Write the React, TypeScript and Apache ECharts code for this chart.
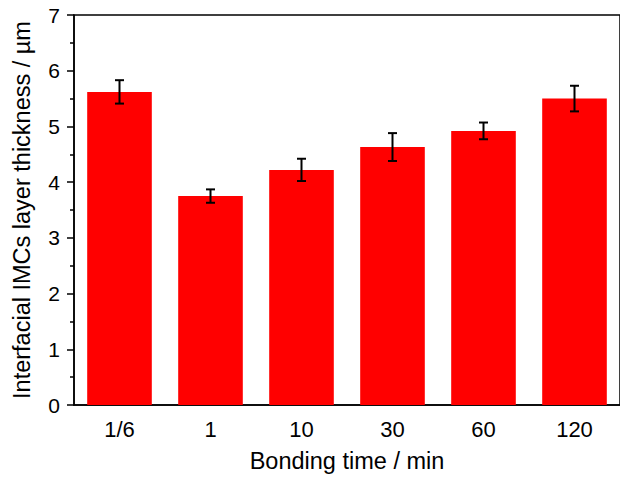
import React, { useEffect, useRef } from "react";
import * as echarts from "echarts";

const categories = ["1/6", "1", "10", "30", "60", "120"];
const thickness = [5.62, 3.75, 4.22, 4.63, 4.92, 5.5];
const errors = [0.21, 0.12, 0.2, 0.25, 0.15, 0.23];
const yTicks = { min: 0, max: 7, interval: 1 };

const FONT = "Arial, 'Liberation Sans', sans-serif";

export default function App() {
  const ref = useRef<HTMLDivElement>(null);
  useEffect(() => {
    if (!ref.current) return;
    const chart = echarts.init(ref.current, undefined, { renderer: "svg" });
    const errData = categories.map((_, i) => [
      i,
      thickness[i] - errors[i],
      thickness[i] + errors[i],
    ]);
    chart.setOption({
      animation: false,
      backgroundColor: "#ffffff",
      grid: {
        left: 74,
        top: 15,
        width: 547,
        height: 392,
        show: true,
        borderColor: "#000",
        borderWidth: 1.5,
        backgroundColor: "transparent",
      },
      xAxis: [
        {
          type: "category",
          data: categories,
          position: "bottom",
          name: "Bonding time / min",
          nameLocation: "middle",
          nameGap: 44,
          nameTextStyle: { fontFamily: FONT, fontSize: 23.5, color: "#000" },
          axisLine: { lineStyle: { color: "#000", width: 1.5 } },
          axisTick: { alignWithLabel: true, length: 7, lineStyle: { color: "#000", width: 1.5 } },
          axisLabel: { fontFamily: FONT, fontSize: 22, color: "#000", margin: 13 },
        },
        {
          type: "category",
          data: categories,
          position: "bottom",
          axisLine: { show: false },
          axisTick: { alignWithLabel: false, length: 4, lineStyle: { color: "#000", width: 1.5 } },
          axisLabel: { show: false },
        },
      ],
      yAxis: {
        type: "value",
        min: yTicks.min,
        max: yTicks.max,
        interval: yTicks.interval,
        name: "Interfacial IMCs layer thickness / µm",
        nameLocation: "middle",
        nameGap: 40,
        nameTextStyle: { fontFamily: FONT, fontSize: 23.5, color: "#000" },
        axisLine: { show: true, lineStyle: { color: "#000", width: 1.5 } },
        axisTick: { show: true, length: 7, lineStyle: { color: "#000", width: 1.5 } },
        minorTick: { show: true, splitNumber: 2, length: 4, lineStyle: { color: "#000", width: 1.5 } },
        splitLine: { show: false },
        axisLabel: { fontFamily: FONT, fontSize: 21, color: "#000", margin: 14 },
      },
      series: [
        {
          type: "bar",
          data: thickness,
          barCategoryGap: "29%",
          itemStyle: { color: "#ff0000" },
        },
        {
          type: "custom",
          data: errData,
          z: 10,
          renderItem: (params: any, api: any) => {
            const x = api.value(0);
            const lo = api.coord([x, api.value(1)]);
            const hi = api.coord([x, api.value(2)]);
            const cap = 4.5;
            const style = { stroke: "#000", lineWidth: 2 };
            return {
              type: "group",
              children: [
                { type: "line", shape: { x1: lo[0], y1: lo[1], x2: hi[0], y2: hi[1] }, style },
                { type: "line", shape: { x1: hi[0] - cap, y1: hi[1], x2: hi[0] + cap, y2: hi[1] }, style },
                { type: "line", shape: { x1: lo[0] - cap, y1: lo[1], x2: lo[0] + cap, y2: lo[1] }, style },
              ],
            };
          },
        },
      ],
    });
    return () => chart.dispose();
  }, []);
  return (
    <div
      ref={ref}
      style={{ position: "fixed", left: 0, top: 0, width: 620, height: 478 }}
    />
  );
}
